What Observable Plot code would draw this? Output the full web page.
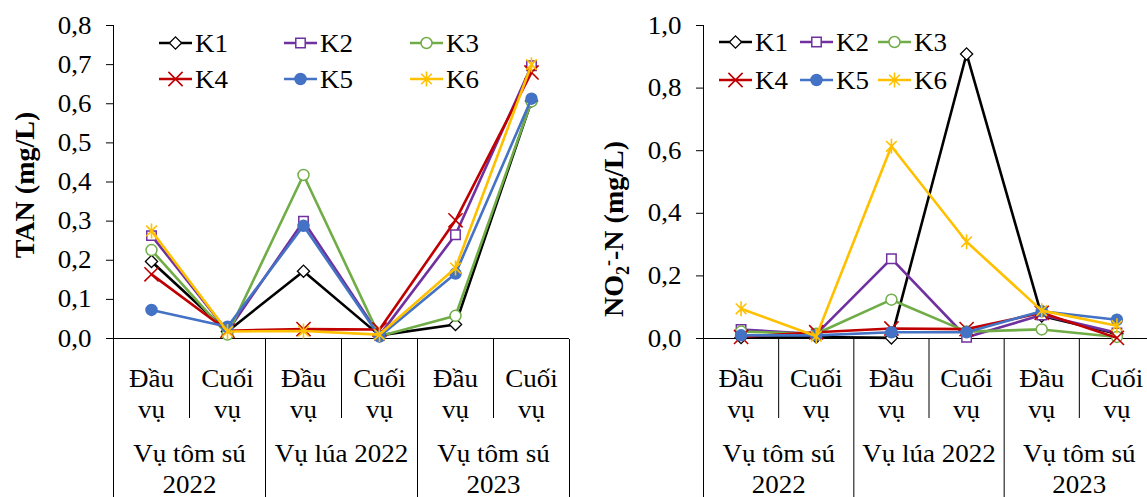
<!DOCTYPE html>
<html><head><meta charset="utf-8">
<script src="https://cdn.jsdelivr.net/npm/d3@7"></script>
<script src="https://cdn.jsdelivr.net/npm/@observablehq/plot@0.6"></script>
<style>
body{margin:0;background:#fff;font-family:"Liberation Serif","Times New Roman",serif;}
#wrap{display:flex;width:1147px;height:497px;overflow:hidden;background:#fff;}
.panel{display:flex;flex-direction:column;overflow:hidden;}
.panel svg{display:block;}
.panel svg.main{position:relative;z-index:2;overflow:visible;}
.panel svg.table{position:relative;z-index:1;overflow:hidden;}
</style></head><body>
<div id="wrap"><div class="panel" id="left"></div><div class="panel" id="right"></div></div>
<script>
// ---- data ----
const categories = ["Đầu\nvụ", "Cuối\nvụ", "Đầu\nvụ", "Cuối\nvụ", "Đầu\nvụ", "Cuối\nvụ"];
const groups = ["Vụ tôm sú\n2022", "Vụ lúa 2022", "Vụ tôm sú\n2023"];
const series = ["K1", "K2", "K3", "K4", "K5", "K6"];

const tanK1 = [0.197, 0.018, 0.172, 0.008, 0.036, 0.607];
const tanK2 = [0.263, 0.018, 0.300, 0.008, 0.265, 0.697];
const tanK3 = [0.226, 0.010, 0.418, 0.006, 0.058, 0.606];
const tanK4 = [0.164, 0.020, 0.024, 0.023, 0.302, 0.680];
const tanK5 = [0.073, 0.030, 0.288, 0.005, 0.166, 0.613];
const tanK6 = [0.275, 0.018, 0.019, 0.010, 0.180, 0.700];

const no2K1 = [0.003, 0.005, 0.002, 0.909, 0.072, 0.015];
const no2K2 = [0.029, 0.014, 0.255, 0.004, 0.075, 0.018];
const no2K3 = [0.022, 0.015, 0.124, 0.022, 0.029, 0.005];
const no2K4 = [0.005, 0.020, 0.032, 0.030, 0.082, 0.002];
const no2K5 = [0.010, 0.010, 0.020, 0.020, 0.087, 0.060];
const no2K6 = [0.095, 0.007, 0.614, 0.309, 0.089, 0.041];

const tanTicks = [0, 0.1, 0.2, 0.3, 0.4, 0.5, 0.6, 0.7, 0.8];
const no2Ticks = [0, 0.2, 0.4, 0.6, 0.8, 1.0];

// ---- styles ----
const star = {draw(ctx, size) {
  const r = Math.sqrt(size / Math.PI);
  const d = r * Math.SQRT1_2;
  ctx.moveTo(0, -r); ctx.lineTo(0, r);
  ctx.moveTo(-d, -d); ctx.lineTo(d, d);
  ctx.moveTo(-d, d); ctx.lineTo(d, -d);
}};
const colors = ["#000000", "#7030A0", "#70AD47", "#C00000", "#4472C4", "#FFC000"];
const symbols = ["diamond2", "square2", "circle", "times", "circle", star];
const fills = ["white", "white", "white", "none", "#4472C4", "none"];
const radii = [5.5, 6, 5.5, 6.5, 5.5, 7.5];
const strokeWidths = [1.3, 1.5, 1.5, 1.6, 1.5, 1.6];
const d3sym = {diamond2: d3.symbolDiamond2, square2: d3.symbolSquare2, circle: d3.symbolCircle, times: d3.symbolTimes || d3.symbolX};

const FONT = "'Liberation Serif','Times New Roman',serif";
const fmt = d => d.toFixed(1).replace(".", ",");

function makeChart(el, cfg) {
  const marks = [Plot.ruleY([0], {stroke: "#000", strokeWidth: 1})];
  cfg.data.forEach((vals, si) => {
    const rows = vals.map((v, i) => ({i, v}));
    marks.push(Plot.line(rows, {x: d => d.i + 0.5, y: "v", stroke: colors[si], strokeWidth: 2.6}));
    marks.push(Plot.dot(rows, {x: d => d.i + 0.5, y: "v", symbol: symbols[si], r: radii[si],
      stroke: colors[si], fill: fills[si], strokeWidth: strokeWidths[si]}));
  });
  const plot = Plot.plot({
    width: cfg.width, height: 339, marginTop: 25, marginBottom: 1,
    marginLeft: cfg.marginLeft, marginRight: cfg.marginRight,
    x: {domain: [0, 6], range: cfg.range, axis: null},
    y: {domain: [0, cfg.ymax], ticks: cfg.ticks, tickFormat: fmt, tickSize: 7, tickPadding: 15, label: null, line: true},
    style: {fontFamily: FONT, fontSize: "25px", color: "#000", background: "transparent"},
    marks
  });
  plot.classList.add("main");
  el.appendChild(plot);
  const svg = d3.select(plot);
  // legend
  const lg = svg.append("g");
  series.forEach((s, si) => {
    const col = si % 3, row = Math.floor(si / 3);
    const x0 = cfg.legendX[col], y0 = cfg.legendY[row];
    const g = lg.append("g").attr("transform", `translate(${x0},${y0})`);
    g.append("line").attr("x1", 0).attr("x2", cfg.legendLen).attr("y1", 0).attr("y2", 0)
      .attr("stroke", colors[si]).attr("stroke-width", 2.6);
    const type = typeof symbols[si] === "string" ? d3sym[symbols[si]] : symbols[si];
    g.append("path").attr("transform", `translate(${cfg.legendLen / 2},0)`)
      .attr("d", d3.symbol().type(type).size(radii[si] * radii[si] * Math.PI)())
      .attr("stroke", colors[si]).attr("fill", fills[si]).attr("stroke-width", strokeWidths[si]);
    g.append("text").attr("x", cfg.legendLen + 3).attr("y", 0).attr("dy", "0.35em")
      .attr("text-anchor", "start")
      .attr("font-family", FONT).attr("font-size", 25).attr("fill", "#000").text(s);
  });
  // axis title
  const t = svg.append("text").attr("transform", `translate(${cfg.titleX},${cfg.titleY}) rotate(-90)`)
    .attr("text-anchor", "middle").attr("dy", "0.35em").attr("font-family", FONT)
    .attr("font-size", 28).attr("font-weight", "bold").attr("fill", "#000");
  cfg.title(t);
  return plot;
}

function makeTable(el, cfg) {
  const plot = Plot.plot({
    width: cfg.width, height: 158, marginTop: 0, marginBottom: 0,
    marginLeft: cfg.marginLeft, marginRight: cfg.marginRight,
    x: {domain: [0, 6], range: cfg.range, axis: null},
    style: {fontFamily: FONT, fontSize: "25px", color: "#000", background: "transparent"},
    marks: [
      Plot.ruleX([1, 3, 5], {stroke: "#000", strokeWidth: 1, insetBottom: 79}),
      Plot.ruleX([0, 2, 4, 6], {stroke: "#000", strokeWidth: 1}),
      Plot.text(categories, {x: (d, i) => i + 0.5, text: d => d, frameAnchor: "top", lineAnchor: "top",
        dy: 25, lineHeight: 1.24, fontSize: 25, fill: "#000"}),
      Plot.text(groups, {x: (d, i) => 2 * i + 1, text: d => d, frameAnchor: "top", lineAnchor: "top",
        dy: 100, lineHeight: 1.24, fontSize: 25, fill: "#000"})
    ]
  });
  plot.classList.add("table");
  el.appendChild(plot);
  return plot;
}

const leftEl = document.getElementById("left");
const rightEl = document.getElementById("right");

const p1 = makeChart(leftEl, {
  width: 580, marginLeft: 113, marginRight: 11, range: [113, 569], ymax: 0.8, ticks: tanTicks,
  data: [tanK1, tanK2, tanK3, tanK4, tanK5, tanK6],
  legendX: [159, 284, 410], legendY: [43, 79], legendLen: 33,
  titleX: 24, titleY: 185,
  title: t => t.text("TAN (mg/L)")
});
const t1 = makeTable(leftEl, {width: 580, marginLeft: 113, marginRight: 11, range: [113, 569]});

const p2 = makeChart(rightEl, {
  width: 567, marginLeft: 123, marginRight: 0, range: [123, 574], ymax: 1.0, ticks: no2Ticks,
  data: [no2K1, no2K2, no2K3, no2K4, no2K5, no2K6],
  legendX: [139, 220, 298], legendY: [42, 80], legendLen: 33,
  titleX: 33, titleY: 229,
  title: t => {
    t.append("tspan").text("NO");
    t.append("tspan").attr("font-size", 18).attr("dy", 6).text("2");
    t.append("tspan").attr("font-size", 18).attr("dy", -15).text("-");
    t.append("tspan").attr("dy", 9).text("-N (mg/L)");
  }
});
const t2 = makeTable(rightEl, {width: 567, marginLeft: 123, marginRight: 0, range: [123, 574]});

// slight horizontal widening of text to match reference glyph proportions
const K = 1.08;
[p1, t1, p2, t2].forEach(svg => {
  svg.querySelectorAll("text").forEach(tx => {
    if (tx.getAttribute("transform") && tx.getAttribute("transform").includes("rotate")) return;
    const tsp = tx.querySelectorAll("tspan");
    const targets = tsp.length ? Array.from(tsp) : [tx];
    targets.forEach(el => {
      const len = el.getComputedTextLength();
      if (len > 0) { el.setAttribute("textLength", len * K); el.setAttribute("lengthAdjust", "spacingAndGlyphs"); }
    });
  });
});
</script>
</body></html>
